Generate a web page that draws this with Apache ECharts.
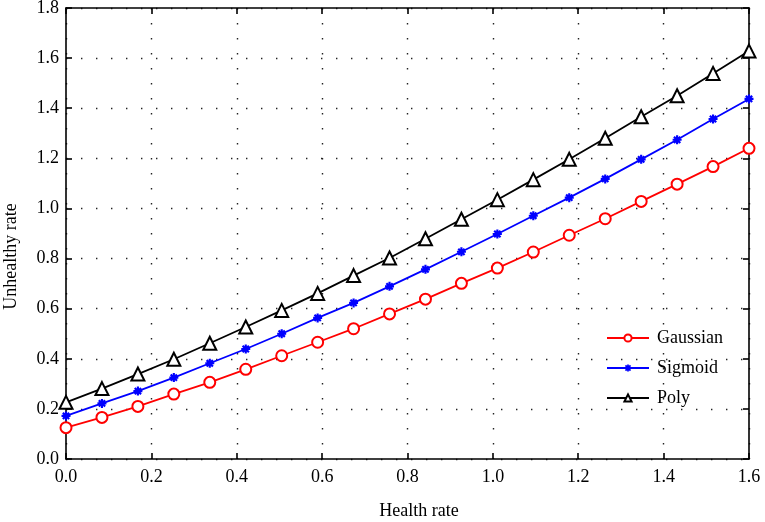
<!DOCTYPE html>
<html>
<head>
<meta charset="utf-8">
<script src="https://cdn.jsdelivr.net/npm/echarts@6/dist/echarts.min.js"></script>
<style>html,body{margin:0;padding:0;background:#fff;}#c{width:765px;height:522px;}</style>
</head>
<body>
<div id="c"></div>
<script>
var xValues = [0, 0.0842, 0.1684, 0.2526, 0.3368, 0.4211, 0.5053, 0.5895, 0.6737, 0.7579, 0.8421, 0.9263, 1.0105, 1.0947, 1.1789, 1.2632, 1.3474, 1.4316, 1.5158, 1.6];
var gaussian = [0.125, 0.166, 0.210, 0.259, 0.306, 0.358, 0.412, 0.466, 0.520, 0.579, 0.638, 0.701, 0.762, 0.826, 0.893, 0.959, 1.028, 1.097, 1.167, 1.240];
var sigmoid = [0.172, 0.222, 0.271, 0.325, 0.382, 0.439, 0.500, 0.563, 0.623, 0.689, 0.757, 0.827, 0.898, 0.971, 1.043, 1.118, 1.196, 1.274, 1.357, 1.437];
var poly = [0.226, 0.281, 0.339, 0.398, 0.462, 0.527, 0.593, 0.661, 0.732, 0.802, 0.879, 0.957, 1.035, 1.115, 1.196, 1.280, 1.366, 1.450, 1.539, 1.628];
var seriesNames = ['Gaussian', 'Sigmoid', 'Poly'];

function pairs(ys) { return xValues.map(function (x, i) { return [x, ys[i]]; }); }

var asterisk = 'path://M-1.2,-5 L1.2,-5 L1.2,5 L-1.2,5 Z M-5,-1.2 L5,-1.2 L5,1.2 L-5,1.2 Z M-4.35,-2.65 L-2.65,-4.35 L4.35,2.65 L2.65,4.35 Z M4.35,-2.65 L-2.65,4.35 L-4.35,2.65 L2.65,-4.35 Z';
var font = '"Liberation Serif", "Times New Roman", serif';
var dotted = { show: true, lineStyle: { color: '#222', width: 1.4, type: [1.4, 13.6] } };
var axisLine = { show: true, onZero: false, lineStyle: { color: '#000', width: 1.6 } };
var tick = { show: true, inside: true, length: 6, lineStyle: { color: '#000', width: 1.6 } };

var chart = echarts.init(document.getElementById('c'));
chart.setOption({
  animation: false,
  backgroundColor: '#fff',
  grid: { left: 66, right: 16, top: 8, bottom: 63, containLabel: false, outerBoundsMode: 'none' },
  legend: {
    orient: 'vertical',
    left: 601,
    top: 324,
    itemWidth: 42,
    itemHeight: 9,
    itemGap: 12,
    data: seriesNames,
    textStyle: { fontFamily: font, fontSize: 18, color: '#000', padding: [0, 0, 0, 3] }
  },
  xAxis: [{
    type: 'value', min: 0, max: 1.6, interval: 0.2,
    name: 'Health rate', nameLocation: 'middle', nameGap: 43,
    nameTextStyle: { fontFamily: font, fontSize: 18, color: '#000', padding: [0, 0, 0, 23] },
    axisLine: axisLine, axisTick: tick, splitLine: dotted,
    axisLabel: { fontFamily: font, fontSize: 18, color: '#000', margin: 9, formatter: function (v) { return v.toFixed(1); } }
  }, {
    type: 'value', min: 0, max: 1.6, interval: 0.2, position: 'top',
    axisLine: axisLine, axisTick: tick, splitLine: { show: false }, axisLabel: { show: false }
  }],
  yAxis: [{
    type: 'value', min: 0, max: 1.8, interval: 0.2,
    name: 'Unhealthy rate', nameLocation: 'middle', nameGap: 46,
    nameTextStyle: { fontFamily: font, fontSize: 18, color: '#000', padding: [0, 46, 0, 0] },
    axisLine: axisLine, axisTick: tick, splitLine: dotted,
    axisLabel: { fontFamily: font, fontSize: 18, color: '#000', margin: 7, formatter: function (v) { return v.toFixed(1); } }
  }, {
    type: 'value', min: 0, max: 1.8, interval: 0.2, position: 'right',
    axisLine: axisLine, axisTick: tick, splitLine: { show: false }, axisLabel: { show: false }
  }],
  series: [{
    name: 'Gaussian', type: 'line', data: pairs(gaussian),
    symbol: 'emptyCircle', symbolSize: 11,
    lineStyle: { color: '#ff0000', width: 1.8 },
    itemStyle: { color: '#ff0000', borderColor: '#ff0000', borderWidth: 1.6 }
  }, {
    name: 'Sigmoid', type: 'line', data: pairs(sigmoid),
    symbol: asterisk, symbolSize: 9,
    lineStyle: { color: '#0000ff', width: 1.8 },
    itemStyle: { color: '#0000ff' }
  }, {
    name: 'Poly', type: 'line', data: pairs(poly),
    symbol: 'emptyTriangle', symbolSize: 13,
    lineStyle: { color: '#000000', width: 1.8 },
    itemStyle: { color: '#000000', borderColor: '#000', borderWidth: 1.6 }
  }]
});
</script>
</body>
</html>
